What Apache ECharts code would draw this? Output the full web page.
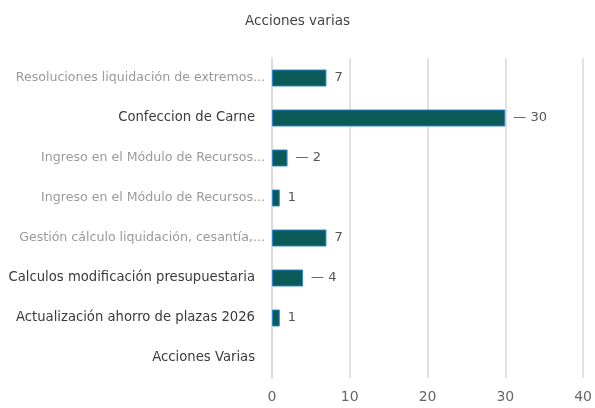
<!DOCTYPE html>
<html>
<head>
<meta charset="utf-8">
<script src="https://cdn.jsdelivr.net/npm/echarts@6/dist/echarts.min.js"></script>
<style>
  html, body { margin: 0; padding: 0; background: #fff; }
  #chart { width: 595px; height: 408px; }
</style>
</head>
<body>
<div id="chart"></div>
<script>
const categories = [
  'Resoluciones liquidación de extremos...',
  'Confeccion de Carne',
  'Ingreso en el Módulo de Recursos...',
  'Ingreso en el Módulo de Recursos...',
  'Gestión cálculo liquidación, cesantía,...',
  'Calculos modificación presupuestaria',
  'Actualización ahorro de plazas 2026',
  'Acciones Varias'
];
const values = [7, 30, 2, 1, 7, 4, 1, null];
// etiquetas con linea guia en el original
const withLine = [false, true, true, false, false, true, false, false];
const xTicks = [0, 10, 20, 30, 40];

const font = '"DejaVu Sans", sans-serif';

const chart = echarts.init(document.getElementById('chart'));

chart.setOption({
  animation: false,
  title: {
    text: 'Acciones varias',
    left: 'center',
    top: 9,
    textStyle: { fontSize: 13.5, fontWeight: 'normal', color: '#444', fontFamily: font }
  },
  grid: { left: 272, right: 10, top: 58, bottom: 30, containLabel: false },
  xAxis: {
    type: 'value',
    min: xTicks[0],
    max: xTicks[xTicks.length - 1],
    interval: 10,
    axisLine: { show: false },
    axisTick: { show: false },
    splitLine: { lineStyle: { color: '#d9d9d9', width: 1.5 } },
    axisLabel: { color: '#666', fontSize: 14, fontFamily: font, margin: 12 }
  },
  yAxis: {
    type: 'category',
    data: categories,
    inverse: true,
    axisLine: { show: true, lineStyle: { color: '#d9d9d9', width: 1.5 } },
    axisTick: { show: false },
    axisLabel: {
      fontFamily: font,
      margin: 7,
      formatter: (val) => val.endsWith('...') ? '{g|' + val + '}' : '{d|' + val + '}',
      rich: {
        g: { fontSize: 12.6, color: '#9a9a9a', fontFamily: font },
        d: { fontSize: 13.2, color: '#3a3a3a', fontFamily: font, padding: [0, 10, 0, 0] }
      }
    }
  },
  series: [{
    type: 'bar',
    data: values,
    barWidth: 17,
    itemStyle: { color: '#0b5a57', borderColor: '#2d86cf', borderWidth: 1 },
    label: {
      show: true,
      position: 'right',
      distance: 8,
      color: '#555',
      fontSize: 13,
      fontFamily: font,
      formatter: (p) => (withLine[p.dataIndex] ? '\u2014 ' : '') + p.value
    }
  }]
});
</script>
</body>
</html>
